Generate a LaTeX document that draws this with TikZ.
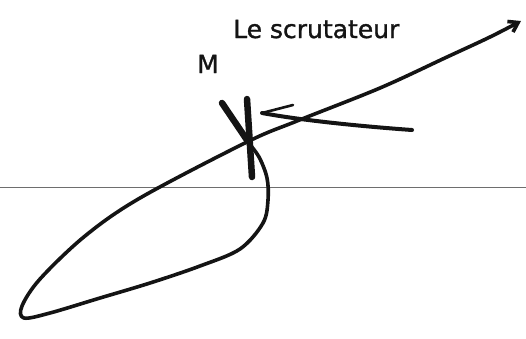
\documentclass[tikz,border=0pt]{standalone}
\usepackage{fontspec}
\setmainfont{DejaVu Sans}[FakeBold=1.2]
\usetikzlibrary{arrows.meta}
\definecolor{inkblack}{RGB}{20,20,20}
\definecolor{axisgray}{RGB}{110,110,110}
\tikzset{
  trace/.style={line width=3.6pt,color=inkblack,line cap=round,line join=round},
  cross/.style={line width=6.5pt,color=inkblack,line cap=round},
  label/.style={font=\fontsize{25}{28}\selectfont,color=inkblack,inner sep=0pt},
}
\begin{document}
\begin{tikzpicture}[x=1pt,y=-1pt]
\useasboundingbox(0,0)rectangle(526,338);
% horizontal axis
\draw[color=axisgray,line width=0.9pt](0,187)--(526,187);
% the loop and the long branch
\draw[trace,-{Straight Barb[length=9pt,width=12pt]}]plot[smooth,tension=0.55]coordinates{
  (247,141)(259,157)(267,178)(268,200)(263,223)(240,249)(200,266)(150,283)
  (100,298)(50,313)(24,318)(22,306)(40,279)(85,236)(140,198)
  (247,142)(297,121)(380,88)(447,57)(490,37)(521,21)};
% the point M
\coordinate(m)at(247,140);
\draw[cross](222,103)--(m);
\draw[cross](247,99)--(252,177);
\node[label,anchor=base west](mlabel)at(197,73){M};
% the scrutateur arrow
\coordinate(from)at(412,130);
\coordinate(tip)at(262,113);
\draw[trace,line width=4pt](from)..controls(370,127)and(305,121)..(tip);
\draw[trace,line width=2.6pt](tip)--(293,105);
\node[label,anchor=base west](scrut)at(233,38){Le scrutateur};
\end{tikzpicture}
\end{document}
